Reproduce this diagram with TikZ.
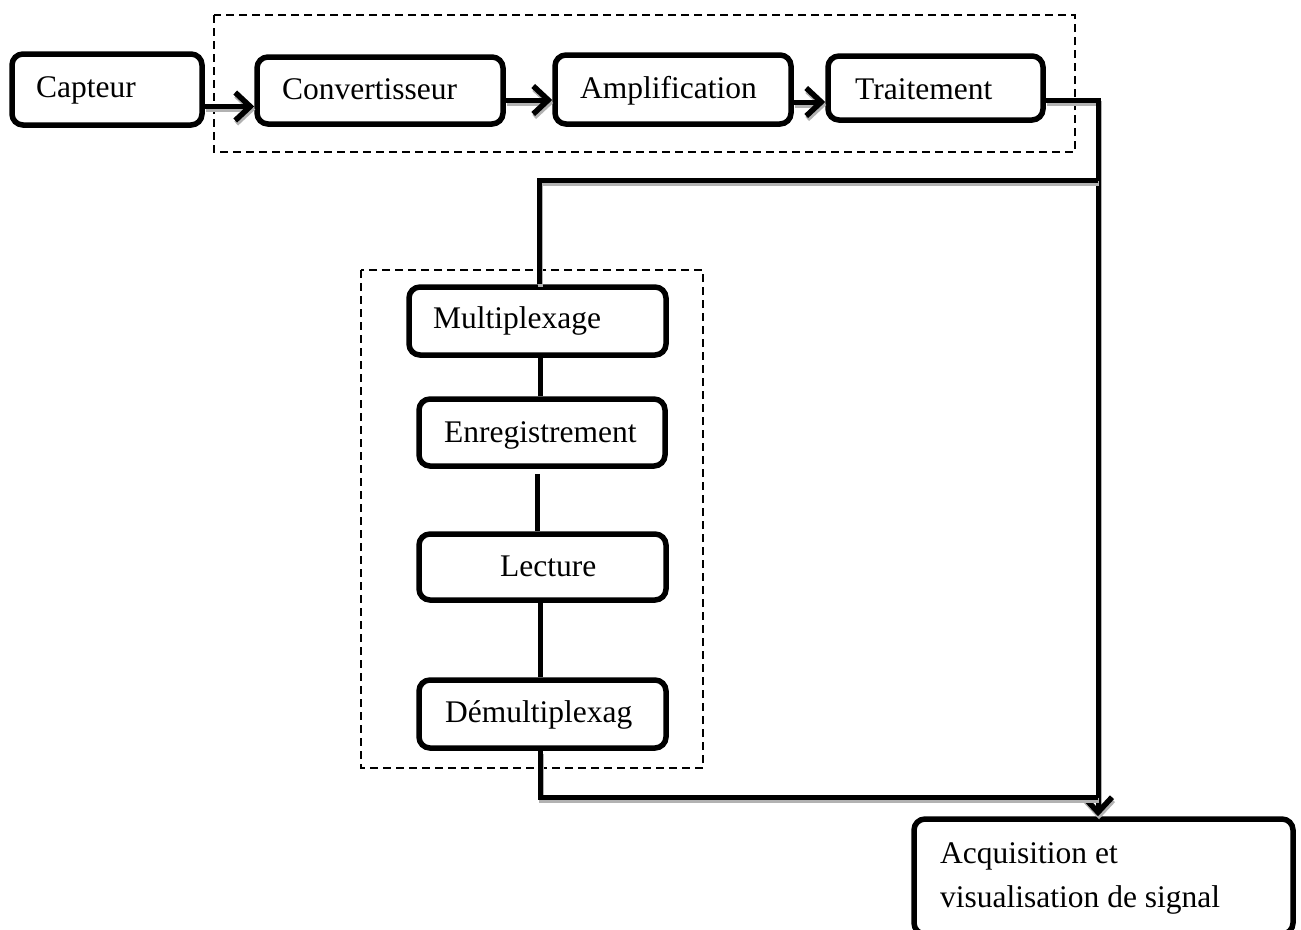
\documentclass[tikz,border=0pt]{standalone}
\usepackage{fontspec}
\setmainfont{Liberation Serif}
\usetikzlibrary{arrows.meta,calc}
\begin{document}
\begin{tikzpicture}[x=1pt,y=-1pt,
  box/.style={draw, line width=5.5pt, rounded corners=11pt, inner sep=0pt},
  lbl/.style={anchor=base west, inner sep=0pt, font=\fontsize{31.5pt}{44pt}\selectfont},
  grp/.style={draw, line width=2pt, dash pattern=on 8pt off 5pt},
  wire/.style={line width=5pt, preaction={draw=gray!60, line width=5pt, transform canvas={shift={(1pt,-3pt)}}}},
  arr/.style={wire, -{Straight Barb[length=15pt,width=28pt,line width=5.5pt]}},
]
\useasboundingbox (0,0) rectangle (1301,929);
\clip (0,0) rectangle (1301,929);
% boxes
\node[box, minimum width=190pt, minimum height=71pt] (cap) at (107,89.5) {};
\node[box, minimum width=246pt, minimum height=67pt] (conv) at (380,90.5) {};
\node[box, minimum width=236pt, minimum height=69pt] (ampl) at (673,89.5) {};
\node[box, minimum width=215pt, minimum height=64pt] (trait) at (935.5,88) {};
\node[box, minimum width=257pt, minimum height=68pt] (mux) at (537.5,321) {};
\node[box, minimum width=246pt, minimum height=67pt] (enr) at (542,432.5) {};
\node[box, minimum width=247pt, minimum height=66pt] (lect) at (542.5,567) {};
\node[box, minimum width=247pt, minimum height=68pt] (demux) at (542.5,714) {};
\node[box, minimum width=379pt, minimum height=115pt] (acq) at (1103.5,876.5) {};
% labels
\node[lbl] (tcap) at (36,97) {Capteur};
\node[lbl] (tconv) at (282,99) {Convertisseur};
\node[lbl] (tampl) at (580,98) {Amplification};
\node[lbl] (ttrait) at (855,99) {Traitement};
\node[lbl] (tmux) at (433,328) {Multiplexage};
\node[lbl] (tenr) at (444,442) {Enregistrement};
\node[lbl] (tlect) at (500,576) {Lecture};
\node[lbl] (tdemux) at (445,722) {Démultiplexag};
\node[lbl] (tacqa) at (940,863) {Acquisition et};
\node[lbl] (tacqb) at (940,907) {visualisation de signal};
% dashed groups
\draw[grp] (214,15) rectangle (1075,152);
\draw[grp] (361,270) rectangle (703,768);
% routing points
\coordinate (c1) at (1098,180);
\coordinate (c3) at (1098,797);
% arrows in the chain
\draw[arr] ([yshift=-17pt]cap.east) -- ([yshift=-17pt]cap.east -| conv.west);
\draw[arr] ([yshift=-9.5pt]conv.east) -- ([yshift=-9.5pt]conv.east -| ampl.west);
\draw[arr] ([yshift=-12.5pt]ampl.east) -- ([yshift=-12.5pt]ampl.east -| trait.west);
\draw[arr] ([yshift=-12pt]trait.east) -| ([xshift=-5.5pt]acq.north);
% branch to storage chain
\draw[wire] (c1) -| ([xshift=1.5pt]mux.north);
\draw[line width=5pt] ([xshift=2.5pt]mux.south) -- ([xshift=2.5pt]mux.south |- enr.north);
\draw[line width=5pt] ([xshift=-5pt,yshift=-5pt]enr.south) -- ([xshift=-5pt]enr.south |- lect.north);
\draw[line width=5pt] ([xshift=-2.5pt]lect.south) -- ([xshift=-2.5pt]lect.south |- demux.north);
\draw[wire] ([xshift=-2.5pt]demux.south) |- (c3);
\end{tikzpicture}
\end{document}
